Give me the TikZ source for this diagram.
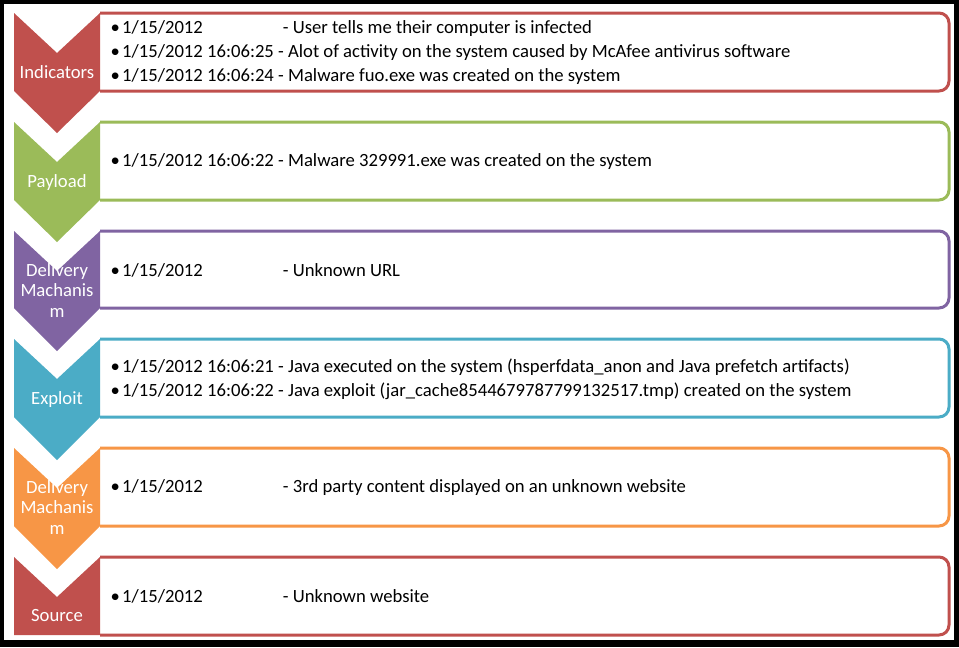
\documentclass[tikz,border=0pt]{standalone}
\usepackage{fontspec}
\setmainfont{Carlito}
\usepackage{xcolor}
\usepackage{tikz}
\usetikzlibrary{positioning}
\definecolor{red_stage}{HTML}{C0504D}
\definecolor{green_stage}{HTML}{9BBB59}
\definecolor{purple_stage}{HTML}{8064A2}
\definecolor{aqua_stage}{HTML}{4BACC6}
\definecolor{orange_stage}{HTML}{F79646}
\tikzset{
    listbox/.style={
        draw=#1,
        line width=2.25pt,
        fill=white,
        rounded corners=7.5pt
    },
    chevlabel/.style={
        text=white,
        align=center,
        inner sep=0pt,
        font=\fontsize{14pt}{15.5pt}\selectfont
    },
    entries/.style={
        anchor=west,
        align=left,
        inner sep=0pt,
        font=\fontsize{14pt}{18pt}\selectfont
    }
}
\newcommand{\bul}{\makebox[10.5pt][c]{\textbullet}}
\newcommand{\dateonly}[1]{\makebox[120.5pt][l]{#1}}

\begin{document}
\begin{tikzpicture}[x=0.75pt, y=-0.75pt]

% Frame
\fill[black] (0,0) rectangle (959,647);
\fill[white] (4,4) rectangle (954,640);

% Indicators
\draw[listbox=red_stage] (100,13) -- (949,13) -- (949,91) -- (100,91);
\fill[red_stage] (14,13) -- (57,53) -- (100,13) -- (100,91) -- (57,133) -- (14,91) -- cycle;
\node[chevlabel] (ind_label) at (57,72.5) {Indicators};
\node[entries] (ind_text) at (108,53) {
\bul\dateonly{1/15/2012}- User tells me their computer is infected\\
\bul 1/15/2012 16:06:25 - Alot of activity on the system caused by McAfee antivirus software\\
\bul 1/15/2012 16:06:24 - Malware fuo.exe was created on the system
};

% Payload
\draw[listbox=green_stage] (100,122) -- (949,122) -- (949,200) -- (100,200);
\fill[green_stage] (14,122) -- (57,162) -- (100,122) -- (100,200) -- (57,242) -- (14,200) -- cycle;
\node[chevlabel] (pay_label) at (57,182.5) {Payload};
\node[entries] (pay_text) at (108,162) {
\bul 1/15/2012 16:06:22 - Malware 329991.exe was created on the system
};

% Delivery
\draw[listbox=purple_stage] (100,231) -- (949,231) -- (949,308) -- (100,308);
\fill[purple_stage] (14,231) -- (57,271) -- (100,231) -- (100,308) -- (57,351) -- (14,308) -- cycle;
\node[chevlabel] (del_label) at (57,290.5) {Delivery\\Machanis\\m};
\node[entries] (del_text) at (108,270.5) {
\bul\dateonly{1/15/2012}- Unknown URL
};

% Exploit
\draw[listbox=aqua_stage] (100,339) -- (949,339) -- (949,417) -- (100,417);
\fill[aqua_stage] (14,339) -- (57,379) -- (100,339) -- (100,417) -- (57,460) -- (14,417) -- cycle;
\node[chevlabel] (exp_label) at (57,399.5) {Exploit};
\node[entries] (exp_text) at (108,379) {
\bul 1/15/2012 16:06:21 - Java executed on the system (hsperfdata\_anon and Java prefetch artifacts)\\
\bul 1/15/2012 16:06:22 - Java exploit (jar\_cache8544679787799132517.tmp) created on the system
};

% Delivery (site)
\draw[listbox=orange_stage] (100,448) -- (949,448) -- (949,526) -- (100,526);
\fill[orange_stage] (14,448) -- (57,488) -- (100,448) -- (100,526) -- (57,569) -- (14,526) -- cycle;
\node[chevlabel] (del2_label) at (57,507.5) {Delivery\\Machanis\\m};
\node[entries] (del2_text) at (108,488) {
\bul\dateonly{1/15/2012}- 3rd party content displayed on an unknown website
};

% Source
\draw[listbox=red_stage] (100,557) -- (949,557) -- (949,635) -- (100,635);
\fill[red_stage] (14,557) -- (57,597) -- (100,557) -- (100,635) -- (14,635) -- cycle;
\node[chevlabel] (src_label) at (57,615.5) {Source};
\node[entries] (src_text) at (108,596.5) {
\bul\dateonly{1/15/2012}- Unknown website
};

\end{tikzpicture}
\end{document}
